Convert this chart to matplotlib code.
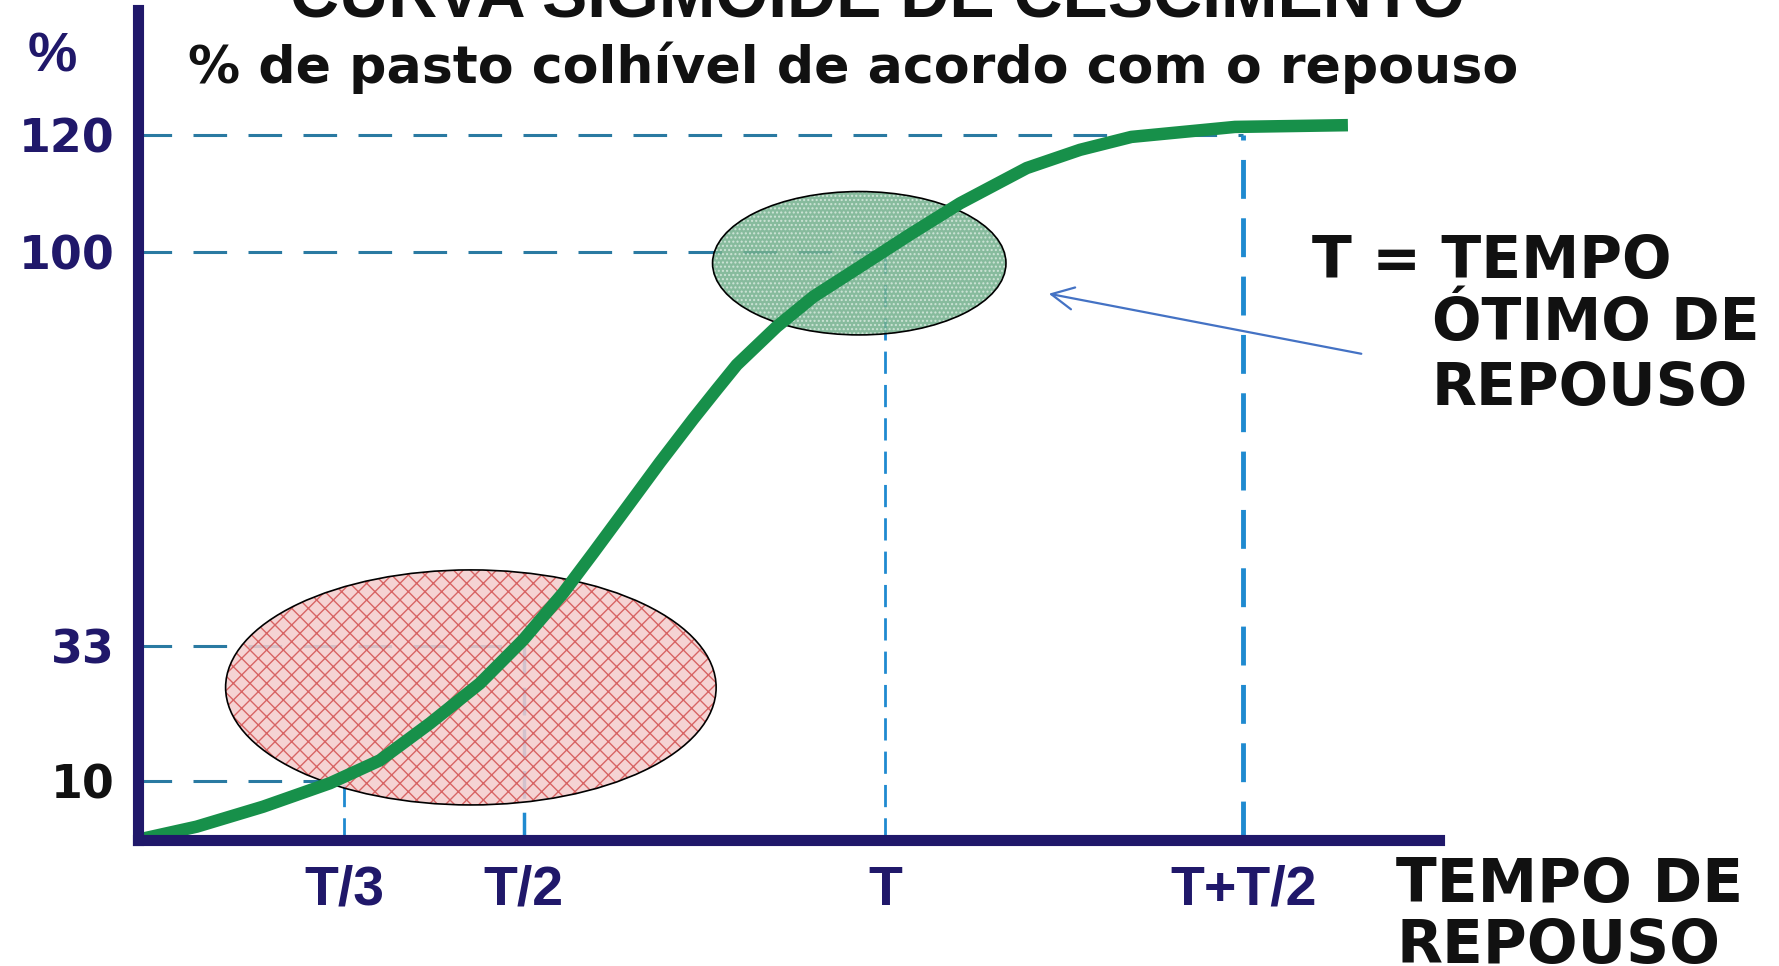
import matplotlib
matplotlib.use('Agg')
import matplotlib.pyplot as plt
from matplotlib.patches import Ellipse

# curva sigmoide (x em unidades de T, y em %)
tempo = [0, 0.078, 0.167, 0.2566, 0.3236, 0.3906, 0.4575, 0.5155, 0.5691, 0.6093,
         0.654, 0.6986, 0.7432, 0.7746, 0.8014, 0.855, 0.904, 0.9665, 1.0335, 1.1005,
         1.1898, 1.2612, 1.3300, 1.4687, 1.62]
pasto = [0, 2.2, 5.6, 9.6, 13.5, 19.8, 26.6, 34.0, 42.0, 48.8,
         56.5, 64.2, 71.6, 76.6, 80.8, 87.3, 92.4, 97.5, 103.0, 108.3,
         114.3, 117.4, 119.6, 121.3, 121.6]

x_ticks = [0.276, 0.516, 1.0, 1.48]
x_labels = ['T/3', 'T/2', 'T', 'T+T/2']
y_ticks = [10, 33, 100, 120]
y_labels = ['10', '33', '100', '120']

# zonas destacadas: centro (T, %) e largura/altura
zona_baixa = ((0.4453, 25.9), 0.657, 40.0)
zona_otima = ((0.9655, 98.1), 0.393, 24.4)

navy = '#20186a'
W, H = 1779, 966

fig = plt.figure(figsize=(W / 100, H / 100), dpi=100)
ax = fig.add_axes([138.4 / W, 126.4 / H, 1300.3 / W, 829.6 / H])
ax.set_xlim(0, 1.7416)
ax.set_ylim(0, 141.2)

for s in ['top', 'right']:
    ax.spines[s].set_visible(False)
for s in ['left', 'bottom']:
    ax.spines[s].set_color(navy)
    ax.spines[s].set_linewidth(8)
    ax.spines[s].set_zorder(5)

# linhas de chamada tracejadas
v_lw = [2.0, 2.5, 2.0, 3.5]
for i in range(len(x_ticks)):
    ax.plot([0, x_ticks[i]], [y_ticks[i], y_ticks[i]], color='#2a7aa2', lw=2.2,
            dashes=(11, 7), zorder=1)
    ax.plot([x_ticks[i], x_ticks[i]], [0, y_ticks[i]], color='#1f8ad0', lw=v_lw[i],
            dashes=(8, 4), zorder=1)

# elipses
for (c, w, h), face, hcol, hatch in [(zona_baixa, '#f4cccc', '#d04848', 'xx'),
                                     (zona_otima, '#72b08c', '#dcece2', '....')]:
    ax.add_patch(Ellipse(c, w, h, facecolor=face, edgecolor='none', alpha=0.85, zorder=2))
    ax.add_patch(Ellipse(c, w, h, facecolor='none', edgecolor=hcol, lw=0, hatch=hatch,
                         alpha=0.8, zorder=2))
    ax.add_patch(Ellipse(c, w, h, facecolor='none', edgecolor='black', lw=1.2, zorder=2))

ax.plot(tempo, pasto, color='#17904a', lw=9, solid_capstyle='butt',
        solid_joinstyle='round', zorder=3)

ax.set_xticks(x_ticks, x_labels)
ax.set_yticks(y_ticks, y_labels)
ax.tick_params(axis='x', length=0, pad=18, labelsize=40, labelcolor=navy)
ax.tick_params(axis='y', length=0, pad=17, labelsize=33, labelcolor=navy)
for lb in ax.get_xticklabels():
    lb.set_fontfamily('Liberation Sans')
    lb.set_fontweight('bold')
for lb in ax.get_yticklabels():
    lb.set_fontfamily('DejaVu Sans')
    lb.set_fontweight('bold')
ax.get_yticklabels()[0].set_color('#111111')

ax.annotate('', xy=(1.2157, 93.0), xytext=(1.6416, 82.6),
            arrowprops=dict(arrowstyle='->', color='#4472c4', lw=1.6, mutation_scale=40),
            annotation_clip=False)

# textos
fig.text(878 / W, 1 - 18 / H, 'CURVA SIGMOIDE DE CESCIMENTO', ha='center', va='baseline',
         fontsize=49, fontweight='bold', family='Liberation Sans', color='#111111')
fig.text(188 / W, 1 - 83 / H, '% de pasto colhível de acordo com o repouso', ha='left',
         va='baseline', fontsize=37.5, fontweight='bold', family='DejaVu Sans', color='#111111')
fig.text(28 / W, 1 - 72 / H, '%', ha='left', va='baseline', fontsize=40,
         fontweight='bold', family='Liberation Sans', color=navy)

fig.text(1312 / W, 1 - 278 / H, 'T = TEMPO', ha='left', va='baseline', fontsize=42,
         fontweight='bold', family='DejaVu Sans', color='#111111')
fig.text(1432 / W, 1 - 340 / H, 'ÓTIMO DE', ha='left', va='baseline', fontsize=42,
         fontweight='bold', family='DejaVu Sans', color='#111111')
fig.text(1432 / W, 1 - 405 / H, 'REPOUSO', ha='left', va='baseline', fontsize=42,
         fontweight='bold', family='DejaVu Sans', color='#111111')

fig.text(1396 / W, 1 - 902 / H, 'TEMPO DE', ha='left', va='baseline', fontsize=43,
         fontweight='bold', family='DejaVu Sans', color='#111111')
fig.text(1396 / W, 1 - 963 / H, 'REPOUSO', ha='left', va='baseline', fontsize=43,
         fontweight='bold', family='DejaVu Sans', color='#111111')

fig.savefig('out.png', dpi=100)
